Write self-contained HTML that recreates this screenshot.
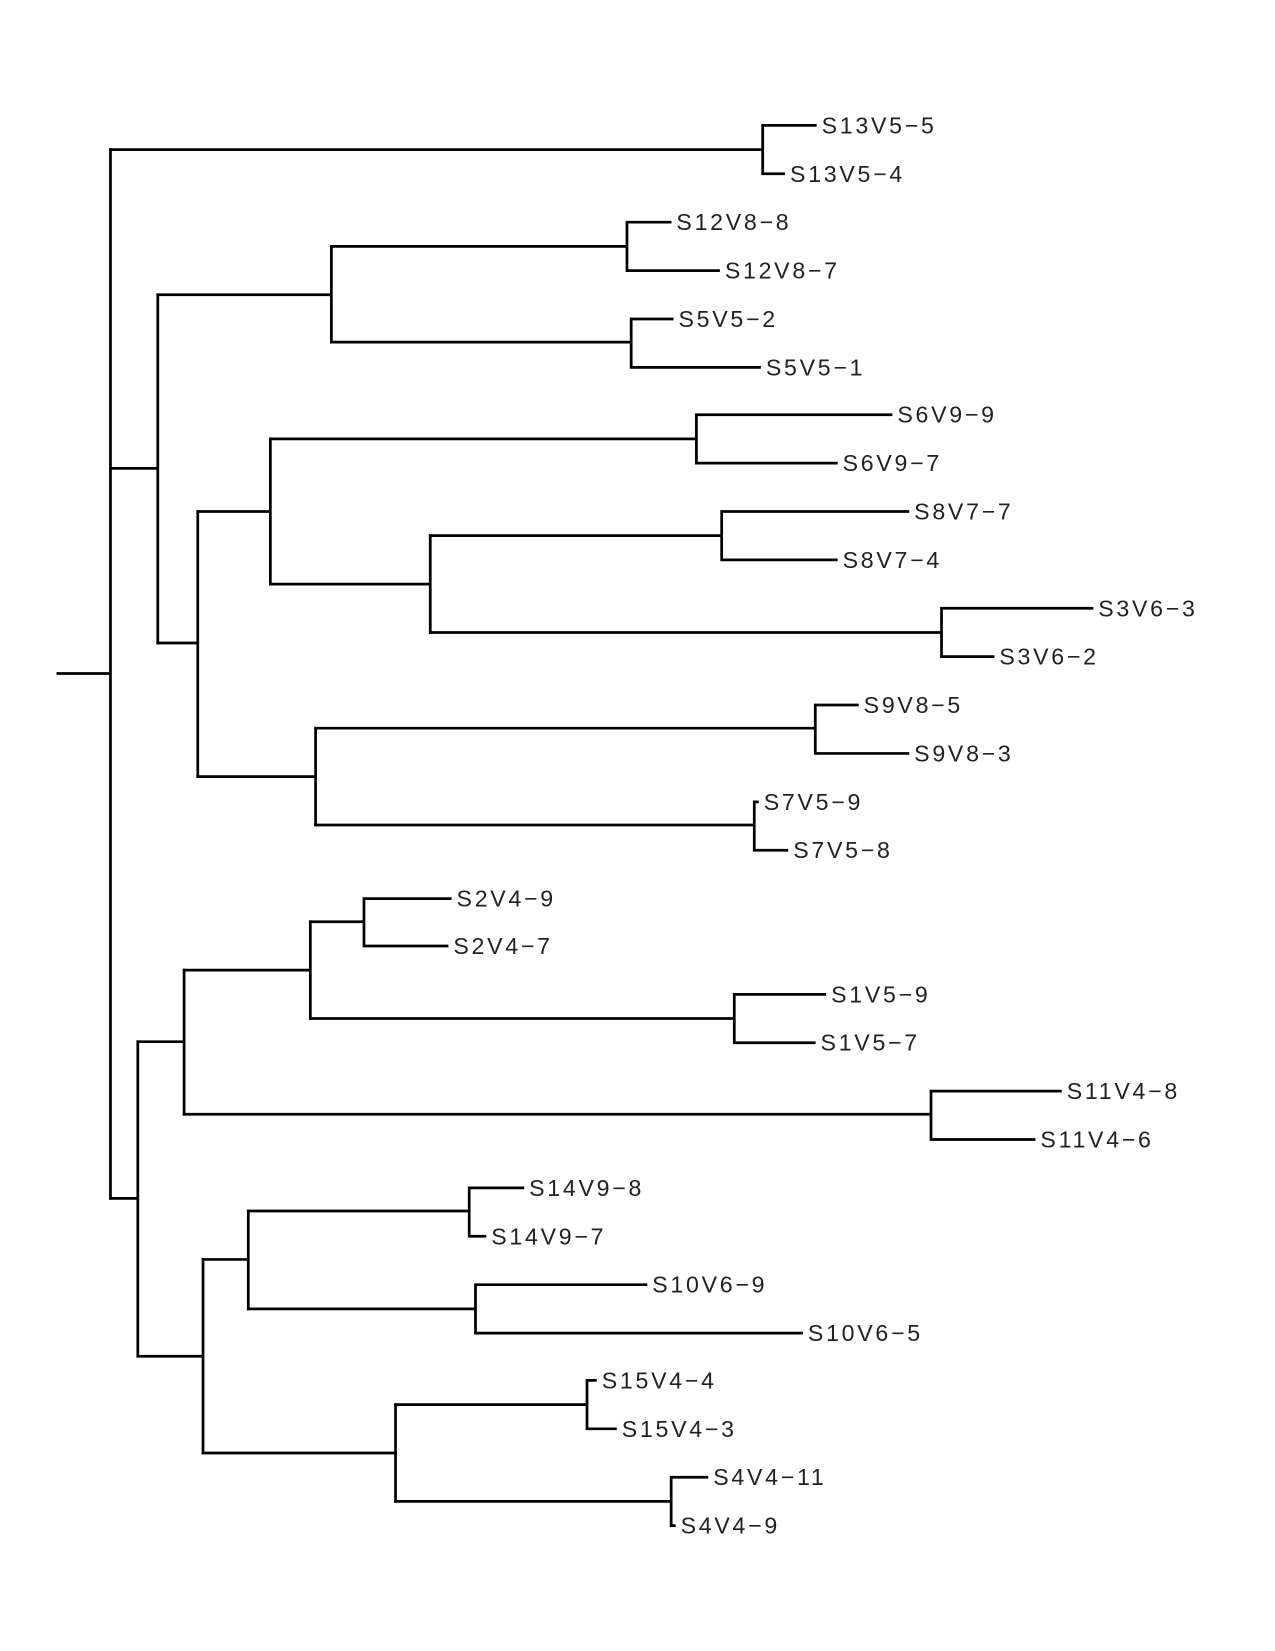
<!DOCTYPE html>
<html><head><meta charset="utf-8"><style>html,body{margin:0;padding:0;background:#fff}svg{display:block}</style></head>
<body>
<svg width="1275" height="1651" viewBox="0 0 1212 1569" xmlns="http://www.w3.org/2000/svg">
<g fill="none" stroke="#000" stroke-width="2.6" stroke-linecap="square">
<path d="M55 640H105M105 142V1139"/>
<path d="M105 142H725M725 119V165M725 119H775M725 165H745"/>
<path d="M105 445H150M150 280V611"/>
<path d="M150 280H315M315 234V325"/>
<path d="M315 234H596M596 211V257M596 211H637M596 257H683"/>
<path d="M315 325H600M600 303V349M600 303H639M600 349H722"/>
<path d="M150 611H188M188 486V738"/>
<path d="M188 486H257M257 417V555"/>
<path d="M257 417H662M662 394V440M662 394H847M662 440H795"/>
<path d="M257 555H409M409 509V601"/>
<path d="M409 509H686M686 486V532M686 486H863M686 532H795"/>
<path d="M409 601H895M895 578V624M895 578H1038M895 624H944"/>
<path d="M188 738H300M300 692V784"/>
<path d="M300 692H775M775 670V716M775 670H815M775 716H863"/>
<path d="M300 784H717M717 762V808M717 762H720M717 808H748"/>
<path d="M105 1139H131M131 990V1289"/>
<path d="M131 990H175M175 922V1059"/>
<path d="M175 922H295M295 876V968"/>
<path d="M295 876H346M346 854V899M346 854H428M346 899H425"/>
<path d="M295 968H698M698 945V991M698 945H784M698 991H774"/>
<path d="M175 1059H885M885 1037V1083M885 1037H1008M885 1083H983"/>
<path d="M131 1289H193M193 1197V1381"/>
<path d="M193 1197H236M236 1151V1244"/>
<path d="M236 1151H446M446 1129V1175M446 1129H497M446 1175H461"/>
<path d="M236 1244H452M452 1221V1267M452 1221H614M452 1267H762"/>
<path d="M193 1381H376M376 1335V1427"/>
<path d="M376 1335H558M558 1312V1358M558 1312H566M558 1358H585"/>
<path d="M376 1427H638M638 1404V1450M638 1404H672M638 1450H641"/>
</g>
<g font-family="Liberation Sans, sans-serif" font-size="22" letter-spacing="2.6" fill="#222" dominant-baseline="central">
<text x="781" y="119">S13V5−5</text>
<text x="751" y="165">S13V5−4</text>
<text x="643" y="211">S12V8−8</text>
<text x="689" y="257">S12V8−7</text>
<text x="645" y="303">S5V5−2</text>
<text x="728" y="349">S5V5−1</text>
<text x="853" y="394">S6V9−9</text>
<text x="801" y="440">S6V9−7</text>
<text x="869" y="486">S8V7−7</text>
<text x="801" y="532">S8V7−4</text>
<text x="1044" y="578">S3V6−3</text>
<text x="950" y="624">S3V6−2</text>
<text x="821" y="670">S9V8−5</text>
<text x="869" y="716">S9V8−3</text>
<text x="726" y="762">S7V5−9</text>
<text x="754" y="808">S7V5−8</text>
<text x="434" y="854">S2V4−9</text>
<text x="431" y="899">S2V4−7</text>
<text x="790" y="945">S1V5−9</text>
<text x="780" y="991">S1V5−7</text>
<text x="1014" y="1037">S11V4−8</text>
<text x="989" y="1083">S11V4−6</text>
<text x="503" y="1129">S14V9−8</text>
<text x="467" y="1175">S14V9−7</text>
<text x="620" y="1221">S10V6−9</text>
<text x="768" y="1267">S10V6−5</text>
<text x="572" y="1312">S15V4−4</text>
<text x="591" y="1358">S15V4−3</text>
<text x="678" y="1404">S4V4−11</text>
<text x="647" y="1450">S4V4−9</text>
</g>
</svg>
</body></html>
